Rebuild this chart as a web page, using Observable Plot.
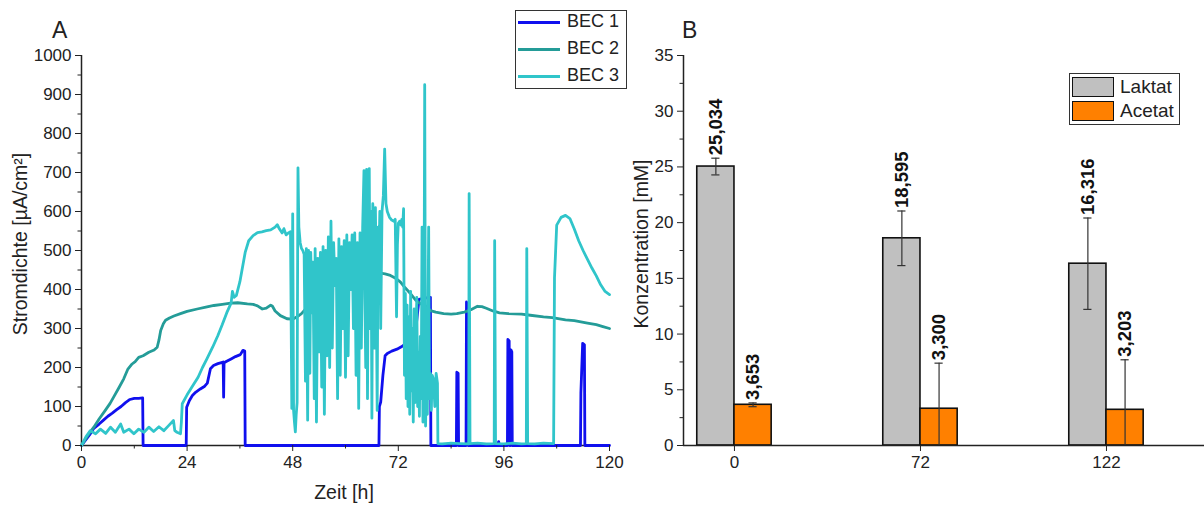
<!DOCTYPE html>
<html><head><meta charset="utf-8">
<script src="https://cdn.jsdelivr.net/npm/d3@7"></script>
<script src="https://cdn.jsdelivr.net/npm/@observablehq/plot@0.6"></script>
<style>
body{margin:0;background:#fff;font-family:"Liberation Sans",Arial,sans-serif;color:#222;}
#wrap{position:relative;width:1204px;height:505px;overflow:hidden;background:#fff;}
.plot{position:absolute;top:0;}
.ttl{position:absolute;font-size:19.5px;white-space:nowrap;transform:translate(-50%,-50%);}
.rot{transform:translate(-50%,-50%) rotate(-90deg);}
.panel{position:absolute;font-size:23px;}
.leg{position:absolute;border:1px solid #333;background:#fff;}
.row{position:absolute;left:0;white-space:nowrap;}
</style></head><body><div id="wrap"></div>
<script>
// ---------- Panel A data: [Zeit h, Stromdichte µA/cm²]
const bec1 = [[0,0],[1,15],[2,30],[2.8,44],[4,55],[5,65],[6,75],[7,83],[8,92],[9,100],[10,110],[11,118],[12,121],[13,121],[13.9,122],[14,0],
[23.8,0],[23.9,98],[24.5,115],[25.2,128],[26,137],[27,145],[28,152],[28.6,160],[29.3,197],[30,205],[31,210],[32.2,214],[32.3,124],[32.4,212],[33,216],[34,222],[35,228],[36.1,233],[36.7,244],[37.1,242],[37.2,0],
[67.6,0],[67.7,100],[68,111],[68.5,180],[69,230],[69.5,236],[70.5,242],[71.7,247],[73,255],[74,265],[75,280],[75.5,287],[76,300],[76.7,375],[78,378],[79.3,380],[79.4,0],
[85.2,0],[85.3,188],[85.6,185],[85.7,0],[87.4,0],[87.5,368],[87.8,360],[87.9,0],[94.6,0],[94.8,10],[95.0,0],
[96.8,0],[96.9,272],[97.2,268],[97.3,0],[97.5,0],[97.6,245],[97.8,240],[97.9,0],
[113.4,0],[113.5,135],[113.9,262],[114.3,258],[114.4,0],[120,0]];

const bec2 = [[0,0],[1,18],[2,35],[2.8,47],[4,68],[5.4,90],[6.5,108],[7.3,124],[8.5,148],[9.6,171],[10.5,195],[11.5,209],[12.2,215],[13,226],[14,230],[15.3,239],[16.5,245],[17.2,252],[17.6,270],[18,295],[18.6,312],[19.1,321],[20,327],[21,332],[22.5,338],[24,344],[26.3,350],[28,354],[30.1,359],[32,362],[33.9,365],[35.5,366],[37.7,363],[39,362],[40,358],[41.1,350],[42,352],[43,360],[43.4,357],[44,345],[45.2,333],[46.7,325],[48,324],[49,330],[50,338],[51.3,355],[52.5,385],[53.6,414],[55,432],[56.6,444],[57.5,452],[58.9,449],[60,436],[61.1,423],[62.2,412],[63.4,406],[64.5,412],[65.7,423],[67,436],[68,442],[69,440],[70.2,436],[71.5,428],[72.5,419],[73.5,405],[74.8,389],[76,372],[77.1,363],[78,360],[79.3,346],[80.5,342],[82.3,338],[84,337],[85.3,338],[87,342],[88.5,348],[90,357],[91,356],[92,352],[93.5,345],[95,340],[97,338],[100,337],[102,334],[105,330],[107,328],[110,322],[112,320],[115,314],[117,310],[118.5,305],[120,300]];

const bec3 = [[0,0],[1,22],[2,38],[3.2,30],[4.3,42],[5.5,31],[6.6,47],[7.7,34],[8.9,55],[9.6,34],[10.8,42],[11.9,30],[13,42],[14.2,34],[15.3,47],[16.4,36],[17.6,48],[18.7,38],[19.8,51],[20.9,64],[21.2,38],[21.7,34],[22.5,30],[22.7,60],[22.9,107],[24,130],[25.1,150],[26.5,175],[27.5,200],[28.5,222],[29.8,252],[31,282],[32,310],[33,340],[34,365],[34.3,395],[34.7,380],[35.2,385],[36,420],[37.2,495],[38,525],[39,538],[40,546],[41,548],[42,551],[43,553],[44,560],[44.5,566],[45,555],[45.6,545],[46,556],[46.5,540],[47.0,545],[47.5,548],
[47.8,95],[48.0,594],[48.2,90],[48.4,60],[48.6,35],[48.8,80],[49.0,110],[49.2,712],[49.4,560],[49.7,520],[50.0,505],[50.3,500],[50.6,490],[50.9,165],[51.1,505],[51.4,65],[51.6,500],[51.9,185],[52.1,495],[52.4,340],[52.6,470],[52.9,120],[53.1,505],[53.4,60],[53.7,480],[54.0,240],[54.3,495],[54.6,150],[54.9,510],[55.2,80],[55.5,500],[55.8,230],[56.1,535],[56.4,200],[56.7,575],[57.0,250],[57.3,520],[57.6,410],[57.9,480],[58.2,120],[58.5,530],[58.8,180],[59.1,510],[59.4,300],[59.7,525],[60.0,175],[60.3,540],[60.6,230],[60.9,520],[61.2,400],[61.5,540],[61.8,300],[62.1,545],[62.4,180],[62.7,520],[63.0,95],[63.3,545],[63.6,250],[63.9,560],[64.2,705],[64.4,380],[64.6,200],[64.8,708],[65.0,120],[65.2,560],[65.4,710],[65.6,300],[65.8,600],[66.0,70],[66.2,620],[66.4,540],[66.6,250],[66.8,610],[67.0,400],[67.2,90],[67.4,560],[67.6,480],[67.8,600],[68.0,300],[68.3,600],[68.6,640],[68.9,760],[69.2,620],[69.5,600],[70.0,585],[70.5,578],[71.0,575],[71.3,580],[71.6,330],[71.8,515],[72.0,570],[72.3,575],[72.6,565],[72.8,580],[73.0,560],[73.2,607],[73.4,180],[73.6,390],[73.8,120],[74.0,360],[74.2,100],[74.4,330],[74.6,80],[74.8,395],[75.0,140],[75.2,300],[75.4,60],[75.6,350],[75.8,110],[76.0,260],[76.2,380],[76.4,100],[76.6,240],[76.8,75],[77.0,280],[77.2,120],[77.4,560],[77.6,60],[77.8,150],[78.0,925],[78.2,50],[78.4,200],[78.6,80],[78.9,560],[79.1,120],[79.3,185],[79.5,90],[79.7,180],[80.0,170],[80.3,100],[80.6,185],[80.9,160],[81.0,5],
[82,4],[84,6],[86,5],[88.0,4],[88.1,646],[88.3,5],[90,6],[92,4],[93.8,5],[93.9,525],[94.1,5],[96,4],[98,6],[100,4],[101.1,5],[101.2,505],[101.4,5],[103,4],[105,6],[107.3,5],[107.5,430],[108,565],[109,585],[110,590],[111,582],[112,555],[113,525],[114,500],[115,477],[116,455],[117,435],[118,412],[119,395],[120,387]];

const seriesNames = ["BEC 1","BEC 2","BEC 3"];
const seriesColors = ["#1010EE","#249C98","#30C5CA"];
const timeTicks = [0,24,48,72,96,120];
const timeMinor = [12,36,60,84,108];
const densTicks = [0,100,200,300,400,500,600,700,800,900,1000];
const densMinor = [50,150,250,350,450,550,650,750,850,950];

// ---------- Panel B data
const sampleTimes = ["0","72","122"];
const substances = ["Laktat","Acetat"];
const substanceColors = ["#C0C0C0","#FF8000"];
const laktat = [25.034,18.595,16.316];
const laktatErr = [0.75,2.45,4.1];
const acetat = [3.653,3.300,3.203];
const acetatErr = [0.17,4.09,4.49];
const concTicks = [0,5,10,15,20,25,30,35];
const concMinor = [2.5,7.5,12.5,17.5,22.5,27.5,32.5];

const FONT = '"Liberation Sans",Arial,sans-serif';
const wrap = document.getElementById("wrap");
const plain = d => String(d);

// ---------- Panel A
const lineData = [bec1,bec2,bec3].flatMap((s,i)=>s.map(([t,v])=>({t,v,s:seriesNames[i]})));
const A = Plot.plot({
  width:630, height:505, marginLeft:81, marginRight:21, marginTop:55, marginBottom:60,
  style:{fontFamily:FONT, fontSize:"17px", color:"#222", background:"transparent", overflow:"visible"},
  x:{domain:[0,120]}, y:{domain:[0,1000]},
  color:{domain:seriesNames, range:seriesColors},
  marks:[
    Plot.ruleY([0],{stroke:"#222",strokeWidth:1.5}),
    Plot.ruleX([0],{stroke:"#222",strokeWidth:1.5}),
    Plot.line(lineData,{x:"t",y:"v",z:"s",stroke:"s",strokeWidth:2.8,strokeLinejoin:"round"}),
    Plot.axisX({ticks:timeTicks,tickFormat:plain,tickSize:6,tickPadding:4,label:null,fontSize:17}),
    Plot.axisX({ticks:timeMinor,tickSize:3.5,tickFormat:()=>"",label:null}),
    Plot.axisY({ticks:densTicks,tickFormat:plain,tickSize:6,tickPadding:4,label:null,fontSize:17}),
    Plot.axisY({ticks:densMinor,tickSize:3.5,tickFormat:()=>"",label:null})
  ]
});
A.classList.add("plot"); A.style.left="0px";
wrap.appendChild(A);

// ---------- Panel B
const BW = 0.2, CAP = 0.022;
const barData = sampleTimes.flatMap((c,i)=>[
  {i,c,sub:substances[0],v:laktat[i],e:laktatErr[i],x1:i-BW,x2:i},
  {i,c,sub:substances[1],v:acetat[i],e:acetatErr[i],x1:i,x2:i+BW}
]);
barData.forEach(d=>{d.xc=(d.x1+d.x2)/2; d.lo=Math.max(0,d.v-d.e); d.hi=d.v+d.e;});
const caps = barData.flatMap(d=>d.v-d.e>0?[{xc:d.xc,y:d.hi},{xc:d.xc,y:d.lo}]:[{xc:d.xc,y:d.hi}]);
const fmt = v=>v.toFixed(3).replace(".",",");
const B = Plot.plot({
  width:574, height:505, marginLeft:53, marginRight:0, marginTop:55, marginBottom:60,
  style:{fontFamily:FONT, fontSize:"17px", color:"#222", background:"transparent", overflow:"visible"},
  x:{domain:[-0.274,2.527]}, y:{domain:[0,35]},
  color:{domain:substances, range:substanceColors},
  marks:[
    Plot.rect(barData,{x1:"x1",x2:"x2",y1:0,y2:"v",fill:"sub",stroke:"#111",strokeWidth:1.6}),
    Plot.ruleX(barData,{x:"xc",y1:"lo",y2:"hi",stroke:"#333",strokeWidth:1.2}),
    Plot.ruleY(caps,{y:"y",x1:d=>d.xc-CAP,x2:d=>d.xc+CAP,stroke:"#333",strokeWidth:1.2}),
    Plot.text(barData,{x:"xc",y:"hi",text:d=>fmt(d.v),rotate:-90,textAnchor:"start",dy:-3,fontWeight:"bold",fontSize:18.5,fill:"#111"}),
    Plot.ruleY([0],{stroke:"#222",strokeWidth:1.5}),
    Plot.ruleX([-0.274],{stroke:"#222",strokeWidth:1.5}),
    Plot.axisX({ticks:[0,1,2],tickFormat:i=>sampleTimes[i],tickSize:6,tickPadding:4,label:null,fontSize:17}),
    Plot.axisY({ticks:concTicks,tickFormat:plain,tickSize:6,tickPadding:4,label:null,fontSize:17}),
    Plot.axisY({ticks:concMinor,tickSize:3.5,tickFormat:()=>"",label:null})
  ]
});
B.classList.add("plot"); B.style.left="630px";
wrap.appendChild(B);

// ---------- Texts
function addDiv(cls, text, css){const d=document.createElement("div"); d.className=cls; d.textContent=text; Object.assign(d.style,css); wrap.appendChild(d); return d;}
addDiv("panel","A",{left:"52px",top:"17px"});
addDiv("panel","B",{left:"682px",top:"17px"});
addDiv("ttl rot","Stromdichte [µA/cm²]",{left:"20px",top:"244px"});
addDiv("ttl","Zeit [h]",{left:"344px",top:"492px"});
addDiv("ttl rot","Konzentration [mM]",{left:"641px",top:"244px"});

// Legend A
const legA = addDiv("leg","",{left:"515px",top:"10px",width:"110px",height:"77px"});
seriesNames.forEach((n,i)=>{
  const r=document.createElement("div"); r.className="row";
  Object.assign(r.style,{top:(i*27)+"px",height:"22px",width:"110px"});
  r.innerHTML=`<span style="position:absolute;left:2px;top:10px;width:42px;height:3px;background:${seriesColors[i]}"></span><span style="position:absolute;left:51px;top:0px;font-size:18px;">${n}</span>`;
  legA.appendChild(r);
});
// Legend B
const legB = addDiv("leg","",{left:"1069px",top:"73px",width:"109px",height:"50px"});
substances.forEach((n,i)=>{
  const r=document.createElement("div"); r.className="row";
  Object.assign(r.style,{top:(3+i*24)+"px",height:"22px",width:"109px"});
  r.innerHTML=`<span style="position:absolute;left:2px;top:0px;width:40px;height:18px;background:${substanceColors[i]};border:1.5px solid #111;"></span><span style="position:absolute;left:50px;top:-1px;font-size:19px;">${n}</span>`;
  legB.appendChild(r);
});
</script></body></html>
